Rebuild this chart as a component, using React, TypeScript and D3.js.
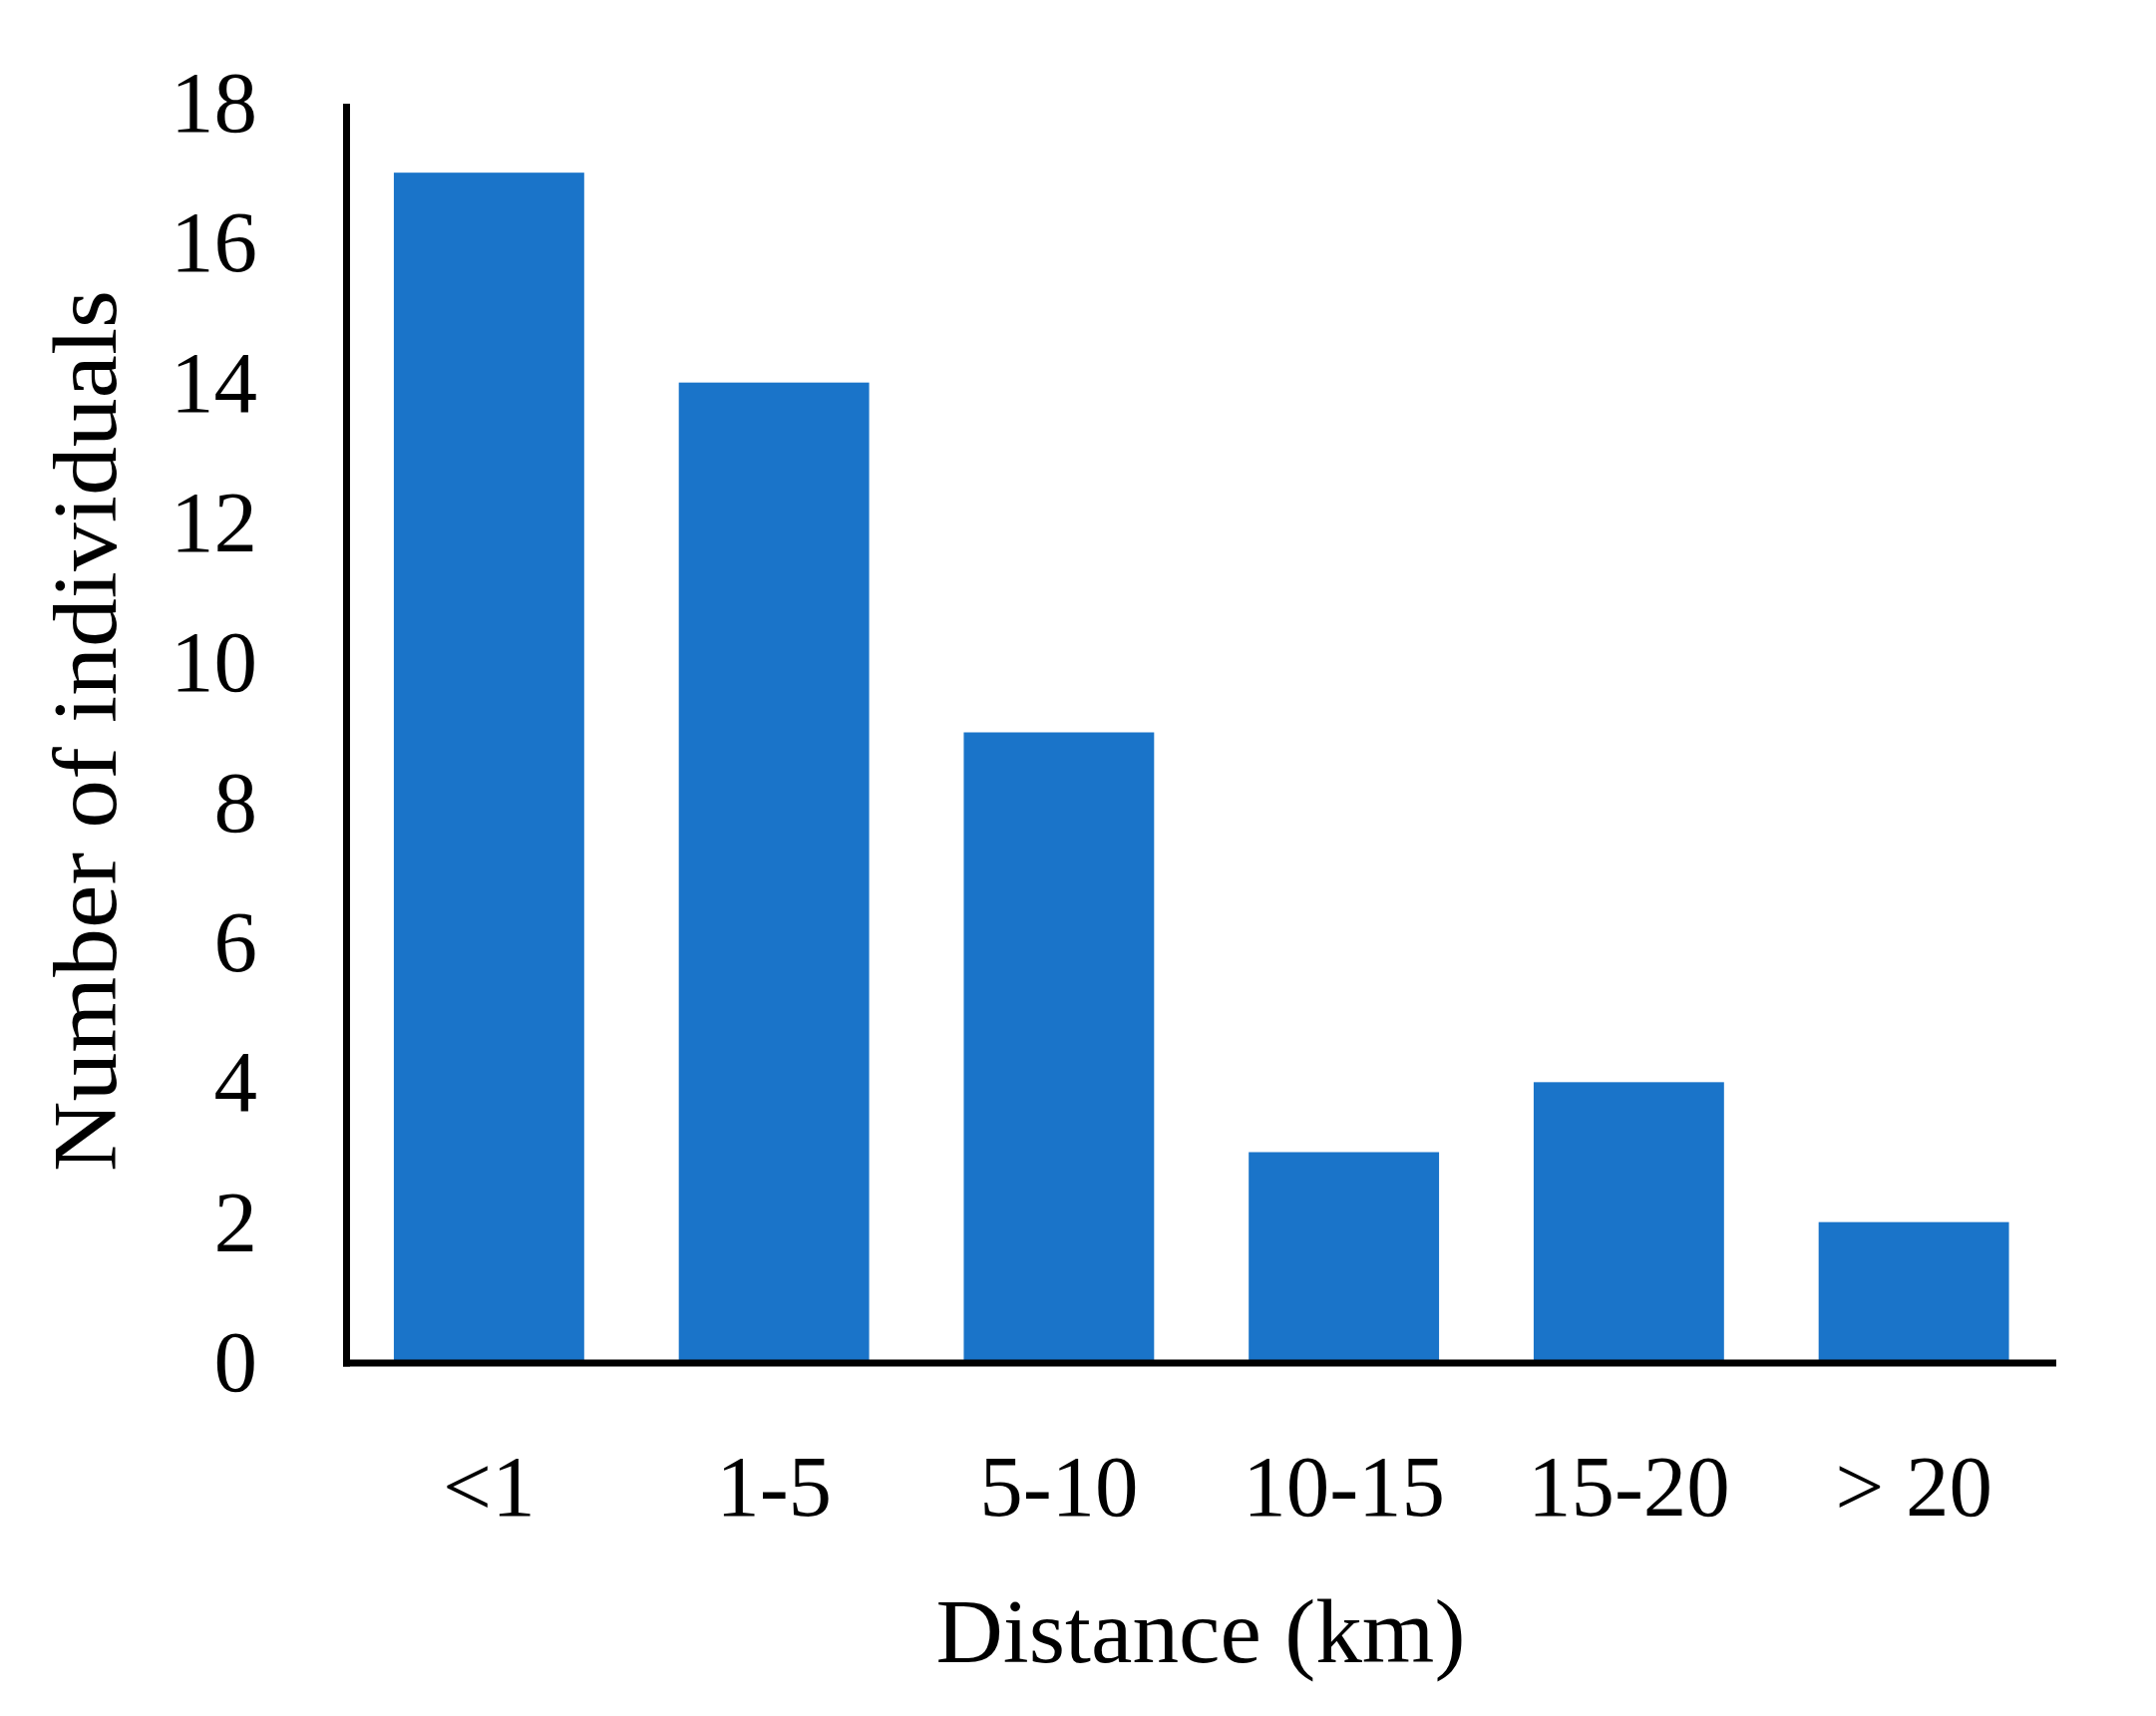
import React from "react";
import * as d3 from "d3";

const categories = ["<1", "1-5", "5-10", "10-15", "15-20", "> 20"];
const values = [17, 14, 9, 3, 4, 2];
const yTicks = [0, 2, 4, 6, 8, 10, 12, 14, 16, 18];
const xTitle = "Distance (km)";
const yTitle = "Number of individuals";

const W = 2162;
const H = 1721;
const FONT = "'Liberation Serif', 'Times New Roman', serif";

export default function App() {
  const x = d3
    .scaleBand<string>()
    .domain(categories)
    .range([347.5, 2062])
    .paddingInner(0.332)
    .paddingOuter(0.166);
  const y = d3.scaleLinear().domain([0, 18]).range([1366, 103]);

  return (
    <svg
      width={W}
      height={H}
      viewBox={`0 0 ${W} ${H}`}
      style={{ position: "absolute", left: 0, top: 0, background: "#fff" }}
    >
      <rect x={0} y={0} width={W} height={H} fill="#fff" />
      {categories.map((c, i) => (
        <rect
          key={c}
          x={x(c)}
          y={y(values[i])}
          width={x.bandwidth()}
          height={y(0) - y(values[i])}
          fill="#1a74c9"
        />
      ))}
      {/* axes */}
      <line x1={347.5} x2={347.5} y1={104} y2={1370.5} stroke="#000" strokeWidth={7} />
      <line x1={344} x2={2062} y1={1367} y2={1367} stroke="#000" strokeWidth={7} />
      {yTicks.map((t) => (
        <text
          key={t}
          x={258}
          y={y(t) + 29}
          textAnchor="end"
          fontFamily={FONT}
          fontSize={87}
          fill="#000"
        >
          {t}
        </text>
      ))}
      {categories.map((c) => (
        <text
          key={c}
          x={(x(c) as number) + x.bandwidth() / 2}
          y={1520}
          textAnchor="middle"
          fontFamily={FONT}
          fontSize={87}
          fill="#000"
        >
          {c}
        </text>
      ))}
      <text
        x={1204}
        y={1667}
        textAnchor="middle"
        fontFamily={FONT}
        fontSize={90}
        textLength={531}
        lengthAdjust="spacingAndGlyphs"
        fill="#000"
      >
        {xTitle}
      </text>
      <text
        transform="translate(116,733) rotate(-90)"
        textAnchor="middle"
        fontFamily={FONT}
        fontSize={90}
        textLength={884}
        lengthAdjust="spacingAndGlyphs"
        fill="#000"
      >
        {yTitle}
      </text>
    </svg>
  );
}
